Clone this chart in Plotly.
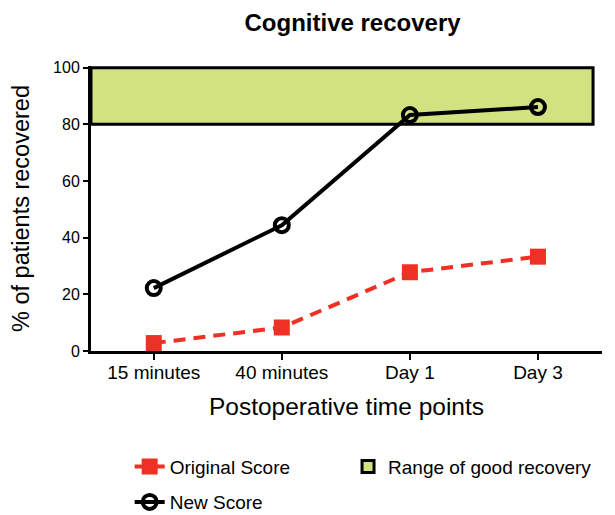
import plotly.graph_objects as go

categories = ["15 minutes", "40 minutes", "Day 1", "Day 3"]
original_score = [2.8, 8.3, 27.8, 33.3]
new_score = [22.2, 44.4, 83.3, 86.1]
good_range = [80, 100]

xi = list(range(len(categories)))
x_left, x_right = -0.49, 3.5
rect_right = 3.43

fig = go.Figure()

fig.add_shape(
    type="rect", xref="x", yref="y",
    x0=x_left, x1=rect_right, y0=good_range[0], y1=good_range[1],
    fillcolor="rgb(210,226,128)", line=dict(color="black", width=3),
    layer="below", name="Range of good recovery", showlegend=True,
    legend="legend3")

fig.add_trace(go.Scatter(
    x=xi, y=original_score, mode="lines+markers", name="Original Score",
    line=dict(color="rgb(238,49,36)", width=4, dash="12px,8px"),
    marker=dict(symbol="square", size=16, color="rgb(238,49,36)"),
    legend="legend"))

fig.add_trace(go.Scatter(
    x=xi, y=new_score, mode="lines+markers", name="New Score",
    line=dict(color="black", width=4),
    marker=dict(symbol="circle-open", size=14, color="black", line=dict(width=4)),
    legend="legend2"))

font_family = "Liberation Sans, Arial, sans-serif"

legend_common = dict(orientation="h", xanchor="left", yanchor="middle",
                     font=dict(size=19), bgcolor="rgba(0,0,0,0)")

fig.update_layout(
    width=607, height=507,
    margin=dict(l=83, r=13, t=58, b=164, autoexpand=False),
    paper_bgcolor="white", plot_bgcolor="white",
    font=dict(family=font_family, color="black", size=16),
    title=dict(text="<b>Cognitive recovery</b>", x=0.5676, xanchor="center",
               y=0.972, yanchor="middle", font=dict(size=24)),
    showlegend=True,
    legend=dict(x=0.0757, y=-0.406, **legend_common),
    legend3=dict(x=0.503, y=-0.406, **legend_common),
    legend2=dict(x=0.0757, y=-0.530, **legend_common),
)

fig.update_xaxes(
    range=[x_left, x_right], tickvals=xi, ticktext=categories,
    showline=True, linecolor="black", linewidth=3,
    ticks="outside", ticklen=6, tickwidth=2, tickcolor="black",
    ticklabelstandoff=-4,
    showgrid=False, zeroline=False, automargin=False,
    title=dict(text="Postoperative time points", font=dict(size=24.5), standoff=17),
    tickfont=dict(size=19),
)
fig.update_yaxes(
    range=[0, 100.6], tickvals=[0, 20, 40, 60, 80, 100],
    showline=True, linecolor="black", linewidth=3,
    ticks="outside", ticklen=5, tickwidth=2, tickcolor="black",
    showgrid=False, zeroline=False, automargin=False,
    title=dict(text="% of patients recovered", font=dict(size=23.5), standoff=24),
    tickfont=dict(size=16),
)

fig.write_html("out.html")
